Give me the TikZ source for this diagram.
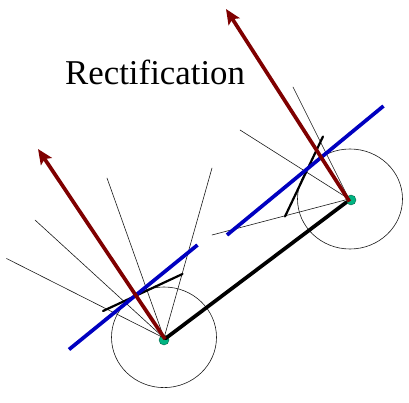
\documentclass[tikz,border=0pt]{standalone}
\usepackage{fontspec}
\setmainfont{Liberation Serif}
\usetikzlibrary{arrows.meta}
\definecolor{raycol}{HTML}{7F0000}
\definecolor{epicol}{HTML}{0000C0}
\definecolor{camcol}{HTML}{00B482}

\begin{document}
\begin{tikzpicture}[
  x=1pt, y=-1pt, line cap=round, line join=round,
  fov/.style={black!90, line width=0.6pt},
  imgln/.style={black, line width=2.2pt},
  rectln/.style={epicol, line width=3.7pt, line cap=butt},
  baseln/.style={black, line width=3.7pt},
  axisarr/.style={raycol, line width=3.7pt, line cap=butt, -{Stealth[length=15pt,width=13pt,inset=3pt]}},
  cam/.style={circle, draw=camcol!55!black, fill=camcol, line width=0.4pt, minimum size=10pt, inner sep=0pt},
  ttl/.style={font=\fontsize{34.8}{36}\selectfont, anchor=base west, inner sep=0pt}]
\useasboundingbox (0,0) rectangle (409,403);

% ---------------------------------------------------------------- title
\node[ttl] (title) at (65,85) {Rectification};

% ---------------------------------------------------------------- left camera
\coordinate (cl) at (164,340);
\draw[fov] (164,337.3) ellipse (52.5 and 50.3);
\node[cam] (camL) at (cl) {};
\foreach \x/\y in {6.5/258.5, 35/220, 107/178, 212/168}
  \draw[fov] (164,338) -- (\x,\y);
\draw[imgln] (103,311) -- (182.5,274);

% ---------------------------------------------------------------- right camera
\coordinate (cr) at (351,200);
\draw[fov] (350,199) ellipse (52.5 and 50);
\node[cam] (camR) at (cr) {};
\foreach \x/\y in {293/87, 240/130, 212/235}
  \draw[fov] (349,199) -- (\x,\y);
\draw[imgln] (285,216.5) -- (323,136.5);

% ---------------------------------------------------------------- baseline
\coordinate (bl) at (165.5,338.5);
\coordinate (br) at (346,202.5);
\draw[baseln] (bl) -- (br);

% ---------------------------------------------------------------- rectified planes
\draw[rectln] (69,349.5) -- (197.5,245);
\draw[rectln] (227,235) -- (383.5,106);

% ---------------------------------------------------------------- optical axes
\coordinate (tipL) at (38,149);
\coordinate (tipR) at (226,9);
\draw[axisarr] (165,339) -- (tipL);
\draw[axisarr] (349.5,201.5) -- (tipR);
\end{tikzpicture}
\end{document}
